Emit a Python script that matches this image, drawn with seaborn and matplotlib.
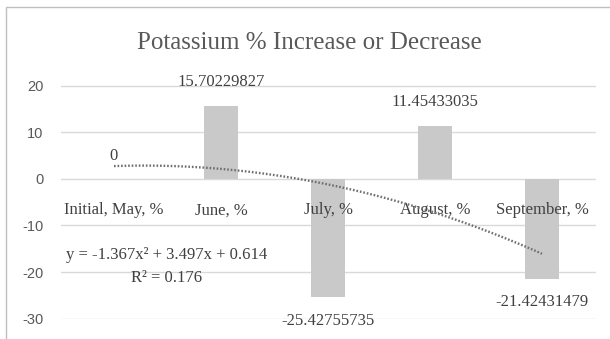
import numpy as np
import pandas as pd
import matplotlib
matplotlib.use("Agg")
import matplotlib.pyplot as plt
from matplotlib.patches import Rectangle
import seaborn as sns

# Monthly change in potassium content
categories = ["Initial, May, %", "June, %", "July, %", "August, %", "September, %"]
values = [0.0, 15.70229827, -25.42755735, 11.45433035, -21.42431479]
y_ticks = [-30, -20, -10, 0, 10, 20]

# order-2 polynomial trendline (x = 1..5) and its R²
trend_coef = [-1.367, 3.497, 0.614]
trend_r2 = 0.176

df = pd.DataFrame({"month": categories, "change": values})

sns.set_theme(style="white")
plt.rcParams["font.family"] = ["Liberation Serif", "DejaVu Serif"]

W, H = 610, 339
fig = plt.figure(figsize=(W / 100, H / 100), dpi=100)
ax = fig.add_axes([60.5 / W, 1 - 319.3 / H, 535 / W, (319.3 - 85) / H])

bar_color = "#c9c9c9"
text_dark = "#404040"
text_grey = "#595959"

sns.barplot(data=df, x="month", y="change", order=categories, color=bar_color,
            width=0.31, saturation=1, ax=ax, errorbar=None, linewidth=0)

xd = np.linspace(1, len(values), 200)
trend = pd.DataFrame({"pos": xd - 1, "val": np.polyval(trend_coef, xd)})
sns.lineplot(data=trend, x="pos", y="val", ax=ax, color="#6f6f6f",
             linewidth=1.7, linestyle=(0, (0.7, 0.8)), zorder=6)

# value labels
for i, v in enumerate(values):
    off = 11 if v >= 0 else -11
    ax.annotate(f"{v:.10g}", xy=(i, v), xytext=(0, off), textcoords="offset points",
                ha="center", va="bottom" if v >= 0 else "top",
                fontsize=12, color=text_dark, zorder=5)

def term(c, first=False):
    s = f"{abs(c):.3f}"
    if first:
        return ("-" if c < 0 else "") + s
    return ("- " if c < 0 else "+ ") + s

eq = f"y = {term(trend_coef[0], True)}x² {term(trend_coef[1])}x {term(trend_coef[2])}"
ax.text(0.49, -16.4, eq, ha="center", va="center", fontsize=12, color=text_dark, zorder=5)
ax.text(0.49, -21.3, f"R² = {trend_r2:.3f}", ha="center", va="center", fontsize=12,
        color=text_dark, zorder=5)

ax.set_xlim(-0.5, len(categories) - 0.5)
ax.set_ylim(-30.15, 20.15)
ax.set_yticks(y_ticks)
ax.set_yticklabels([str(t) for t in y_ticks], family=["Liberation Sans Narrow", "Liberation Sans"],
                   fontsize=10.5, color=text_grey)
ax.yaxis.grid(True, color="#d9d9d9", linewidth=1)
ax.set_axisbelow(True)
ax.xaxis.set_zorder(4)
ax.set_xlabel("")
ax.set_ylabel("")
for s in ["top", "right", "left"]:
    ax.spines[s].set_visible(False)
ax.spines["bottom"].set_position(("data", 0))
ax.spines["bottom"].set_visible(False)
ax.tick_params(axis="y", length=0, pad=12.5)
ax.tick_params(axis="x", length=0, pad=17, labelsize=12, labelcolor=text_dark)

fig.text(309 / W, 1 - 49 / H, "Potassium % Increase or Decrease", ha="center",
         va="baseline", fontsize=18, color=text_grey)

fig.patches.append(Rectangle((6 / W, -0.1), 1.2, 1 - 7 / H + 0.1, transform=fig.transFigure,
                             fill=False, edgecolor="#bfbfbf", linewidth=1))

fig.savefig("out.png", dpi=100)
